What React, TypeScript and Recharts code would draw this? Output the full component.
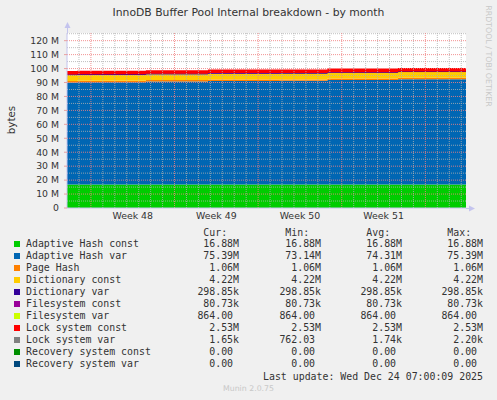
import React from "react";
import { AreaChart, Area, XAxis, YAxis, CartesianGrid, ReferenceLine } from "recharts";

// ---- data (values in millions of bytes) ----
const days = [0, 0.84, 6.6, 11.8, 17.8, 21.8, 27.7, 33.4];
const adaptiveHashConst = [16.88, 16.88, 16.88, 16.88, 16.88, 16.88, 16.88, 16.88];
const adaptiveHashVar = [73.14, 73.3, 73.8, 74.2, 74.3, 74.9, 75.39, 75.39];
const pageHash = [1.06, 1.06, 1.06, 1.06, 1.06, 1.06, 1.06, 1.06];
const dictionaryConst = [4.22, 4.22, 4.22, 4.22, 4.22, 4.22, 4.22, 4.22];
const dictionaryVar = [0.29885, 0.29885, 0.29885, 0.29885, 0.29885, 0.29885, 0.29885, 0.29885];
const filesystemConst = [0.08073, 0.08073, 0.08073, 0.08073, 0.08073, 0.08073, 0.08073, 0.08073];
const filesystemVar = [0.000864, 0.000864, 0.000864, 0.000864, 0.000864, 0.000864, 0.000864, 0.000864];
const lockSystemConst = [2.53, 2.53, 2.53, 2.53, 2.53, 2.53, 2.53, 2.53];
const lockSystemVar = [0.00076, 0.0022, 0.0018, 0.0017, 0.0019, 0.0015, 0.00165, 0.00165];
const recoveryConst = [0, 0, 0, 0, 0, 0, 0, 0];
const recoveryVar = [0, 0, 0, 0, 0, 0, 0, 0];

const weekTicks = [5.5, 12.5, 19.5, 26.5];
const weekLabels = ["Week 48", "Week 49", "Week 50", "Week 51"];
const weekBoundaries = [2, 9, 16, 23, 30];
const dayLines = [1, 3, 4, 5, 6, 7, 8, 10, 11, 12, 13, 14, 15, 17, 18, 19, 20, 21, 22, 24, 25, 26, 27, 28, 29, 31, 32, 33];
const yMajor = [10, 20, 30, 40, 50, 60, 70, 80, 90, 100, 110, 120];
const yMinor = [5, 15, 25, 35, 45, 55, 65, 75, 85, 95, 105, 115, 125];
const yTicks = [0, 10, 20, 30, 40, 50, 60, 70, 80, 90, 100, 110, 120];

const series = [
  { key: "ahc", name: "Adaptive Hash const", color: "#00CC00", values: adaptiveHashConst },
  { key: "ahv", name: "Adaptive Hash var", color: "#0066B3", values: adaptiveHashVar },
  { key: "ph", name: "Page Hash", color: "#FF8000", values: pageHash },
  { key: "dc", name: "Dictionary const", color: "#FFCC00", values: dictionaryConst },
  { key: "dv", name: "Dictionary var", color: "#330099", values: dictionaryVar },
  { key: "fc", name: "Filesystem const", color: "#990099", values: filesystemConst },
  { key: "fv", name: "Filesystem var", color: "#CCFF00", values: filesystemVar },
  { key: "lc", name: "Lock system const", color: "#FF0000", values: lockSystemConst },
  { key: "lv", name: "Lock system var", color: "#808080", values: lockSystemVar },
  { key: "rc", name: "Recovery system const", color: "#008F00", values: recoveryConst },
  { key: "rv", name: "Recovery system var", color: "#00487D", values: recoveryVar },
];

const curVals = ["16.88M", "75.39M", "1.06M", "4.22M", "298.85k", "80.73k", "864.00 ", "2.53M", "1.65k", "0.00 ", "0.00 "];
const minVals = ["16.88M", "73.14M", "1.06M", "4.22M", "298.85k", "80.73k", "864.00 ", "2.53M", "762.03 ", "0.00 ", "0.00 "];
const avgVals = ["16.88M", "74.31M", "1.06M", "4.22M", "298.85k", "80.73k", "864.00 ", "2.53M", "1.74k", "0.00 ", "0.00 "];
const maxVals = ["16.88M", "75.39M", "1.06M", "4.22M", "298.85k", "80.73k", "864.00 ", "2.53M", "2.20k", "0.00 ", "0.00 "];

const data = days.map((d, i) => {
  const row: Record<string, number> = { day: d };
  series.forEach((s) => {
    row[s.key] = s.values[i];
  });
  return row;
});

const SANS = "'DejaVu Sans', sans-serif";
const MONO = "'DejaVu Sans Mono', monospace";
const TXT = "#333";
const AXIS = "#c4c4ee";
const X_DOMAIN: [number, number] = [0, 33.4];
const Y_DOMAIN: [number, number] = [0, 125.5];

export default function App() {
  const colRights = [239, 321, 402, 483];
  const cols = [curVals, minVals, avgVals, maxVals];
  const headers = ["Cur:  ", "Min:  ", "Avg:  ", "Max:  "];
  return (
    <div style={{ position: "absolute", left: 0, top: 0, width: 497, height: 400, background: "#F0F0F0", overflow: "hidden" }}>
      <div style={{ position: "absolute", left: 0, width: 497, top: 5, textAlign: "center", fontFamily: SANS, fontSize: 10.8, color: TXT, lineHeight: "16px" }}>
        InnoDB Buffer Pool Internal breakdown - by month
      </div>
      <div style={{ position: "absolute", left: 11, top: 120, fontFamily: SANS, fontSize: 10.3, color: TXT, transform: "translate(-50%, -50%) rotate(-90deg)", whiteSpace: "nowrap" }}>
        bytes
      </div>
      <div style={{ position: "absolute", left: 488, top: 56, fontFamily: SANS, fontSize: 7.9, color: "#c8c8c8", transform: "translate(-50%, -50%) rotate(90deg)", whiteSpace: "nowrap" }}>
        RRDTOOL / TOBI OETIKER
      </div>
      <div style={{ position: "absolute", left: 0, top: 0 }}>
        <AreaChart width={497} height={230} data={data} margin={{ top: 33, right: 31, left: 0, bottom: 0 }}>
          <CartesianGrid fill="#ffffff" horizontal={false} vertical={false} />
          <XAxis
            dataKey="day"
            type="number"
            domain={X_DOMAIN}
            ticks={weekTicks}
            interval={0}
            tickFormatter={(v: number) => weekLabels[weekTicks.indexOf(v)] ?? ""}
            tickLine={false}
            tickSize={0}
            tickMargin={4}
            height={22}
            axisLine={{ stroke: AXIS }}
            tick={{ fill: TXT, fontFamily: SANS, fontSize: 9.4 }}
            allowDataOverflow
          />
          <YAxis
            type="number"
            domain={Y_DOMAIN}
            ticks={yTicks}
            interval={0}
            tickFormatter={(v: number) => (v === 0 ? "0" : `${v} M`)}
            width={67}
            tickSize={3}
            tickMargin={5}
            tickLine={{ stroke: "#e8a0a0" }}
            axisLine={{ stroke: AXIS }}
            tick={{ fill: TXT, fontFamily: SANS, fontSize: 9.3 }}
            allowDataOverflow
          />
          {series.map((s) => (
            <Area
              key={s.key}
              dataKey={s.key}
              name={s.name}
              stackId="a"
              type="stepAfter"
              fill={s.color}
              fillOpacity={1}
              stroke={s.key === "dv" ? s.color : "none"}
              strokeWidth={s.key === "dv" ? 1 : 0}
              dot={false}
              activeDot={false}
              isAnimationActive={false}
            />
          ))}
          {yMinor.map((v) => (
            <ReferenceLine key={`ym${v}`} y={v} stroke="#b0b0b0" strokeOpacity={0.8} strokeDasharray="1 1" />
          ))}
          {dayLines.map((v) => (
            <ReferenceLine key={`xd${v}`} x={v} stroke="#b0b0b0" strokeOpacity={0.8} strokeDasharray="1 1" />
          ))}
          {yMajor.map((v) => (
            <ReferenceLine key={`yM${v}`} y={v} stroke="#f08080" strokeOpacity={0.85} strokeDasharray="1 1" />
          ))}
          {weekBoundaries.map((v) => (
            <ReferenceLine key={`xw${v}`} x={v} stroke="#f08080" strokeOpacity={0.85} strokeDasharray="1 1" />
          ))}
        </AreaChart>
      </div>
      <svg style={{ position: "absolute", left: 0, top: 0 }} width={497} height={230}>
        <line x1={67.5} y1={27} x2={67.5} y2={33} stroke={AXIS} />
        <polygon points="64.5,28 70.5,28 67.5,22" fill={AXIS} />
        <line x1={466} y1={208.5} x2={470} y2={208.5} stroke={AXIS} />
        <polygon points="469,205.5 469,211.5 475,208.5" fill={AXIS} />
      </svg>
      <div style={{ fontFamily: MONO, fontSize: 9.9, color: TXT, whiteSpace: "pre" }}>
        {headers.map((h, c) => (
          <div key={h} style={{ position: "absolute", right: 497 - colRights[c], top: 233 - 6, lineHeight: "12px" }}>{h}</div>
        ))}
        {series.map((s, i) => {
          const y = 244.3 + 12 * i;
          return (
            <React.Fragment key={s.key}>
              <div style={{ position: "absolute", left: 14, top: y - 3, width: 6, height: 6, background: s.color }} />
              <div style={{ position: "absolute", left: 26, top: y - 6, lineHeight: "12px" }}>{s.name}</div>
              {cols.map((col, c) => (
                <div key={c} style={{ position: "absolute", right: 497 - colRights[c], top: y - 6, lineHeight: "12px" }}>{col[i]}</div>
              ))}
            </React.Fragment>
          );
        })}
        <div style={{ position: "absolute", right: 497 - 483, top: 377 - 6, lineHeight: "12px" }}>Last update: Wed Dec 24 07:00:09 2025</div>
      </div>
      <div style={{ position: "absolute", left: 0, width: 497, top: 384, textAlign: "center", fontFamily: SANS, fontSize: 7.8, color: "#c8c8c8", lineHeight: "10px" }}>
        Munin 2.0.75
      </div>
    </div>
  );
}
